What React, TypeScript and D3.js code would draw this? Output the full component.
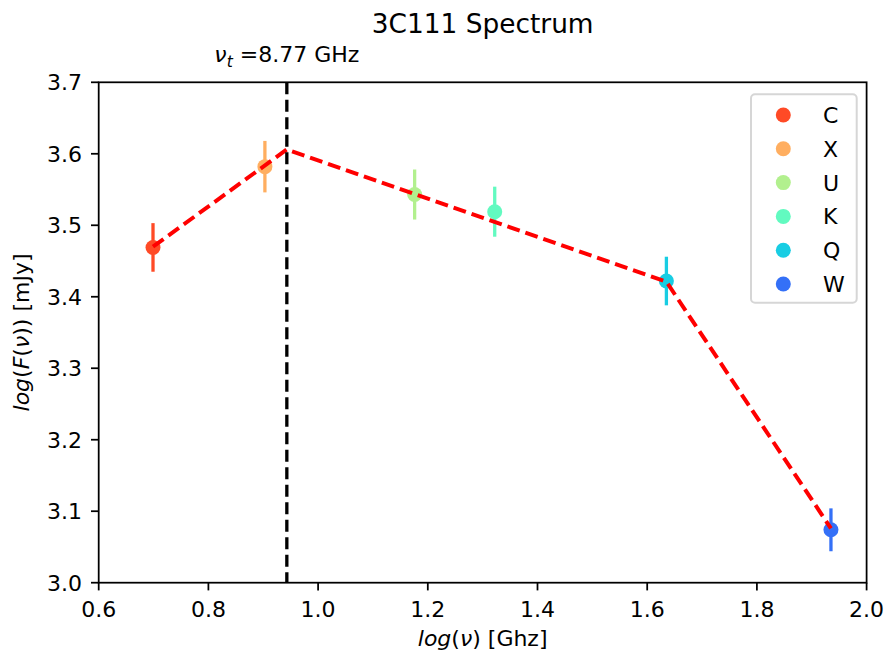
import React from "react";
import * as d3 from "d3";

const bands = ["C", "X", "U", "K", "Q", "W"];
const logNu = [0.699, 0.903, 1.176, 1.322, 1.635, 1.935];
const logF = [3.469, 3.582, 3.543, 3.519, 3.422, 3.074];
const logFErr = [0.034, 0.036, 0.035, 0.035, 0.034, 0.03];
const bandColors = ["#ff4a26", "#ffae60", "#b2f08e", "#62fac0", "#18cde3", "#3470f7"];

const fitX = [0.699, 0.943, 1.635, 1.935];
const fitY = [3.47, 3.606, 3.421, 3.076];

const turnoverLogNu = 0.943;
const turnoverLabel = "8.77 GHz";

const xTicks = [0.6, 0.8, 1.0, 1.2, 1.4, 1.6, 1.8, 2.0];
const yTicks = [3.0, 3.1, 3.2, 3.3, 3.4, 3.5, 3.6, 3.7];

const W = 887;
const H = 653;
const L = 98.7;
const R = 866.6;
const T = 82.3;
const B = 582.7;
const FONT = "'DejaVu Sans', sans-serif";
const FS = 22;

export default function App() {
  const x = d3.scaleLinear().domain([0.6, 2.0]).range([L, R]);
  const y = d3.scaleLinear().domain([3.0, 3.7]).range([B, T]);
  const line = d3
    .line<number>()
    .x((_, i) => x(fitX[i]))
    .y((d) => y(d));
  const vx = x(turnoverLogNu);

  return (
    <svg
      width={W}
      height={H}
      style={{ position: "absolute", left: 0, top: 0, background: "#fff" }}
      fontFamily={FONT}
    >
      <rect x={0} y={0} width={W} height={H} fill="#fff" />
      {/* title */}
      <text x={(L + R) / 2} y={33} fontSize={26.4} textAnchor="middle" fill="#000">
        3C111 Spectrum
      </text>
      {/* error bars and points */}
      {bands.map((b, i) => (
        <g key={b}>
          <line
            x1={x(logNu[i])}
            x2={x(logNu[i])}
            y1={y(logF[i] - logFErr[i])}
            y2={y(logF[i] + logFErr[i])}
            stroke={bandColors[i]}
            strokeWidth={3.3}
          />
          <circle cx={x(logNu[i])} cy={y(logF[i])} r={7.5} fill={bandColors[i]} />
        </g>
      ))}
      {/* fit */}
      <path
        d={line(fitY) || ""}
        fill="none"
        stroke="#ff0000"
        strokeWidth={4}
        strokeDasharray="13,6"
      />
      {/* turnover line */}
      <line x1={vx} x2={vx} y1={T} y2={B} stroke="#000" strokeWidth={3.3} strokeDasharray="12,5.5" />
      <text x={vx} y={62} fontSize={FS} textAnchor="middle" fill="#000">
        <tspan fontStyle="italic">ν</tspan>
        <tspan fontStyle="italic" fontSize={15.5} dy={5}>t</tspan>
        <tspan dy={-5}>{" =" + turnoverLabel}</tspan>
      </text>
      {/* frame */}
      <rect x={L} y={T} width={R - L} height={B - T} fill="none" stroke="#000" strokeWidth={1.76} />
      {/* x ticks */}
      {xTicks.map((t) => (
        <g key={"x" + t}>
          <line x1={x(t)} x2={x(t)} y1={B} y2={B + 7.7} stroke="#000" strokeWidth={1.76} />
          <text x={x(t)} y={617} fontSize={FS} textAnchor="middle" fill="#000">
            {t.toFixed(1)}
          </text>
        </g>
      ))}
      {/* y ticks */}
      {yTicks.map((t) => (
        <g key={"y" + t}>
          <line x1={L - 7.7} x2={L} y1={y(t)} y2={y(t)} stroke="#000" strokeWidth={1.76} />
          <text x={82} y={y(t) + 8} fontSize={FS} textAnchor="end" fill="#000">
            {t.toFixed(1)}
          </text>
        </g>
      ))}
      {/* axis labels */}
      <text x={(L + R) / 2} y={646} fontSize={FS} textAnchor="middle" fill="#000">
        <tspan fontStyle="italic">log</tspan>
        <tspan>(</tspan>
        <tspan fontStyle="italic">ν</tspan>
        <tspan>) [Ghz]</tspan>
      </text>
      <text
        transform={`translate(28.5,${(T + B) / 2}) rotate(-90)`}
        fontSize={FS}
        textAnchor="middle"
        fill="#000"
      >
        <tspan fontStyle="italic">log</tspan>
        <tspan>(</tspan>
        <tspan fontStyle="italic">F</tspan>
        <tspan>(</tspan>
        <tspan fontStyle="italic">ν</tspan>
        <tspan>)) [mJy]</tspan>
      </text>
      {/* legend */}
      <rect
        x={751}
        y={94.3}
        width={105.7}
        height={208.4}
        rx={4}
        fill="#fff"
        fillOpacity={0.8}
        stroke="#d6d6d6"
        strokeWidth={2}
      />
      {bands.map((b, i) => (
        <g key={"lg" + b}>
          <circle cx={783.3} cy={115 + i * 33.8} r={7.5} fill={bandColors[i]} />
          <text x={823} y={115 + i * 33.8 + 8} fontSize={FS} fill="#000">
            {b}
          </text>
        </g>
      ))}
    </svg>
  );
}
